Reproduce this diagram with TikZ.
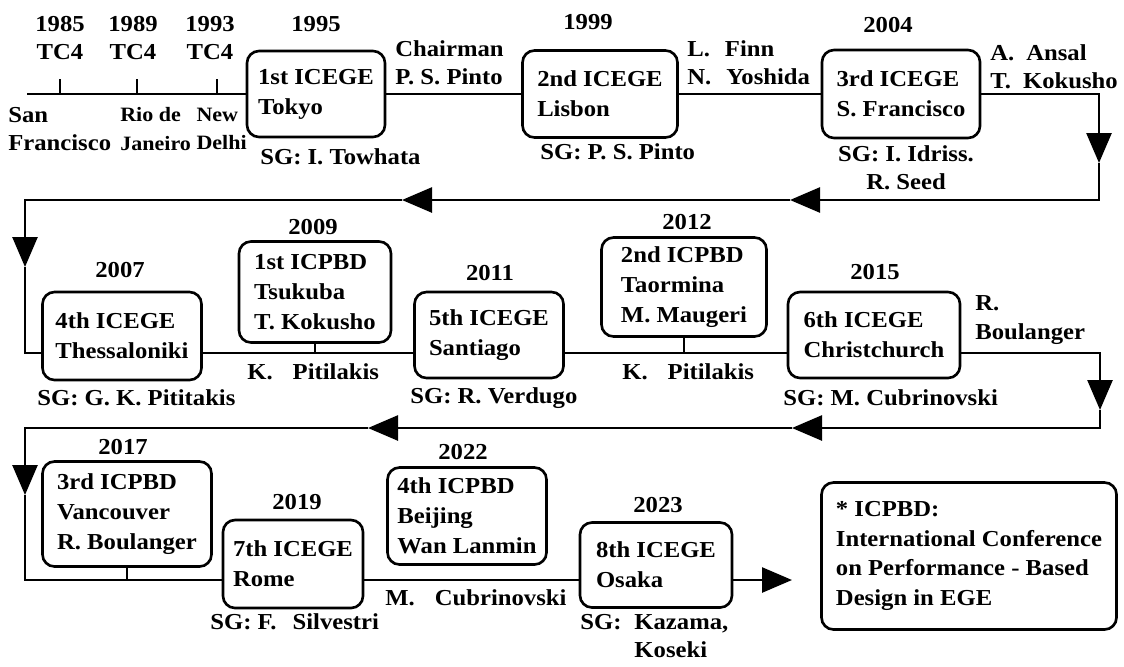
\documentclass[tikz,border=0pt]{standalone}
\usepackage{fontspec}
\setmainfont{Liberation Serif}[FakeStretch=1.08]
\usetikzlibrary{arrows.meta}

\begin{document}
\begin{tikzpicture}[x=0.2mm,y=-0.2mm,
  lbl/.style={font=\fontsize{13}{16}\selectfont\bfseries, inner sep=0pt},
  city/.style={lbl, font=\fontsize{11.6}{16}\selectfont\bfseries, align=left},
  evt/.style={draw, line width=1.5pt, rounded corners=2.4mm, align=left, inner sep=0pt,
    font=\fontsize{13}{17}\selectfont\bfseries},
  flow/.style={line width=1.5pt},
  tip/.style={-{Triangle[length=6mm,width=5mm]}}]

\useasboundingbox (0,0) rectangle (1124,666);

% first row: TC4 meetings and ICEGE 1 to 3
\node[lbl,align=center] (y85) at (60,38) {1985\\TC4};
\node[lbl,align=center] (y89) at (133,38) {1989\\TC4};
\node[lbl,align=center] (y93) at (210,38) {1993\\TC4};
\node[lbl,align=left,anchor=west] (sf) at (8,129) {San\\Francisco};
\node[city,anchor=west] (rio) at (120,129) {Rio de\\Janeiro};
\node[city,anchor=east] (nd) at (247,129) {New\\Delhi};

\node[lbl] (y95) at (316,24) {1995};
\node[evt,minimum width=27.6mm,minimum height=17.2mm] (ic1) at (316,94) {1st ICEGE\\Tokyo};
\node[lbl,anchor=west] (sg1) at (260,157) {SG: I. Towhata};
\node[lbl,align=left,anchor=west] (chair) at (395,63) {Chairman\\P. S. Pinto};

\node[lbl] (y99) at (588,22) {1999};
\node[evt,minimum width=31mm,minimum height=17.4mm] (ic2) at (600,94) {2nd ICEGE\\Lisbon};
\node[lbl,anchor=west] (sg2) at (540,152) {SG: P. S. Pinto};
\node[lbl,align=left,anchor=west] (finn) at (687,63) {L.\hspace{3mm}Finn\\N.\hspace{3mm}Yoshida};

\node[lbl] (y04) at (888,25) {2004};
\node[evt,minimum width=31.6mm,minimum height=17.6mm] (ic3) at (901,94) {3rd ICEGE\\S. Francisco};
\node[lbl,align=left,anchor=west] (ansal) at (990,67) {A.\hspace{2.4mm}Ansal\\T.\hspace{2.4mm}Kokusho};
\node[lbl,align=center] (sg3) at (906,168) {SG: I. Idriss.\\R. Seed};

% second row
\node[lbl] (y07) at (120,270) {2007};
\node[evt,minimum width=31.8mm,minimum height=17.6mm] (ic4) at (122,336) {4th ICEGE\\Thessaloniki};
\node[lbl,anchor=west] (sg4) at (37,398) {SG: G. K. Pititakis};

\node[lbl] (y09) at (313,227) {2009};
\node[evt,minimum width=30.4mm,minimum height=20.2mm] (pb1) at (315,292) {1st ICPBD\\Tsukuba\\T. Kokusho};
\node[lbl,anchor=west] (kp1) at (247,372) {K.\hspace{4mm}Pitilakis};

\node[lbl] (y11) at (490,273) {2011};
\node[evt,minimum width=29.8mm,minimum height=17.2mm] (ic5) at (489,335) {5th ICEGE\\Santiago};
\node[lbl,anchor=west] (sg5) at (410,398) {SG: R. Verdugo};

\node[lbl] (y12) at (687,222) {2012};
\node[evt,minimum width=33mm,minimum height=19.8mm] (pb2) at (684,287) {2nd ICPBD\\Taormina\\M. Maugeri};
\node[lbl,anchor=west] (kp2) at (622,372) {K.\hspace{4mm}Pitilakis};

\node[lbl] (y15) at (875,272) {2015};
\node[evt,minimum width=34.4mm,minimum height=17.2mm] (ic6) at (874,335) {6th ICEGE\\Christchurch};
\node[lbl,align=left,anchor=west] (boul) at (975,320) {R.\\Boulanger};
\node[lbl,anchor=west] (sg6) at (783,398) {SG: M. Cubrinovski};

% third row
\node[lbl] (y17) at (123,447) {2017};
\node[evt,minimum width=33.8mm,minimum height=21mm] (pb3) at (127,514) {3rd ICPBD\\Vancouver\\R. Boulanger};

\node[lbl] (y19) at (297,502) {2019};
\node[evt,minimum width=28mm,minimum height=17.6mm] (ic7) at (293,564) {7th ICEGE\\Rome};
\node[lbl,anchor=west] (sg7) at (210,622) {SG: F.\hspace{3.2mm}Silvestri};

\node[lbl] (y22) at (463,452) {2022};
\node[evt,minimum width=31.8mm,minimum height=19.4mm] (pb4) at (467,516) {4th ICPBD\\Beijing\\Wan Lanmin};
\node[lbl,anchor=west] (mc) at (385,598) {M.\hspace{4mm}Cubrinovski};

\node[lbl] (y23) at (658,505) {2023};
\node[evt,minimum width=30.4mm,minimum height=17mm] (ic8) at (656,565) {8th ICEGE\\Osaka};
\node[lbl,align=left,anchor=west] (sg8) at (580,636) {SG:\hspace{2.6mm}Kazama,\\\hphantom{SG:\hspace{2.6mm}}Koseki};

\node[evt,minimum width=59mm,minimum height=29.4mm] (key) at (969,556)
  {* ICPBD:\\International Conference\\on Performance - Based\\Design in EGE};

% the time line
\coordinate (r1l) at (27,94);
\coordinate (r1r) at (1099,94);
\coordinate (a1) at (1099,163);
\coordinate (r2r) at (1099,200);
\coordinate (a2) at (790,200);
\coordinate (a3) at (402,200);
\coordinate (r2l) at (25,200);
\coordinate (a4) at (25,267);
\coordinate (r2b) at (25,353);
\coordinate (r2e) at (1100,353);
\coordinate (a5) at (1100,410);
\coordinate (r3r) at (1100,428);
\coordinate (a6) at (792,428);
\coordinate (a7) at (368,428);
\coordinate (r3l) at (25,428);
\coordinate (a8) at (25,495);
\coordinate (r3b) at (25,580);
\coordinate (fin) at (792,580);

\foreach \t in {60,137,217}
  \draw[flow] (\t,94) -- (\t,79);

\draw[flow] (r1l) -- (ic1);
\draw[flow] (ic1) -- (ic2);
\draw[flow] (ic2) -- (ic3);
\draw[flow,tip] (ic3) -- (r1r) -- (a1);

\draw[flow,tip] (a1) -- (r2r) -- (a2);
\draw[flow,tip] (a2) -- (a3);
\draw[flow,tip] (a3) -- (r2l) -- (a4);
\draw[flow] (a4) -- (r2b) -- (ic4.west |- r2b);
\draw[flow] (ic4.east |- r2b) -- (ic5.west |- r2b);
\draw[flow] (ic5.east |- r2b) -- (ic6.west |- r2b);
\draw[flow] (pb1) -- (pb1 |- r2b);
\draw[flow] (pb2) -- (pb2 |- r2b);
\draw[flow,tip] (ic6.east |- r2b) -- (r2e) -- (a5);

\draw[flow,tip] (a5) -- (r3r) -- (a6);
\draw[flow,tip] (a6) -- (a7);
\draw[flow,tip] (a7) -- (r3l) -- (a8);
\draw[flow] (a8) -- (r3b) -- (ic7.west |- r3b);
\draw[flow] (pb3) -- (pb3 |- r3b);
\draw[flow] (ic7.east |- r3b) -- (ic8.west |- r3b);
\draw[flow,tip] (ic8.east |- r3b) -- (fin);

\end{tikzpicture}
\end{document}
